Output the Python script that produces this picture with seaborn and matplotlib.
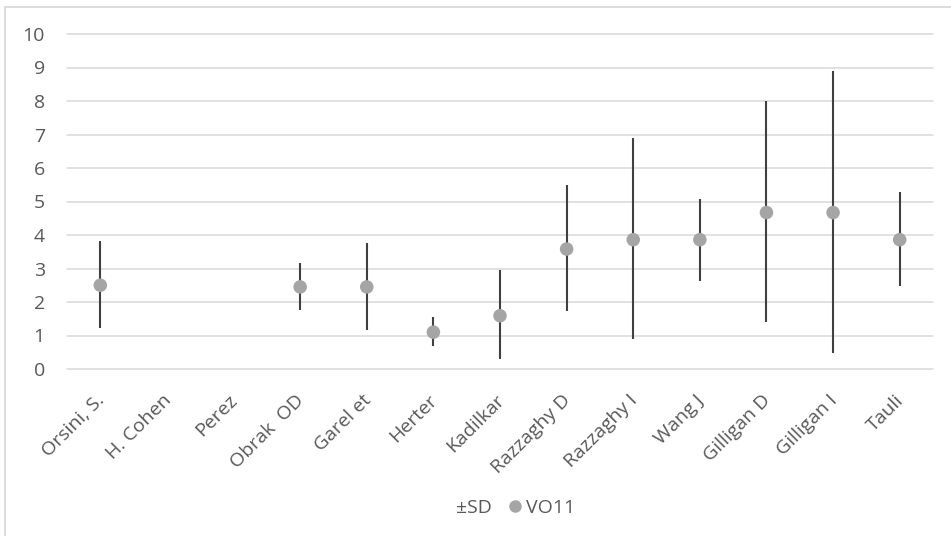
import numpy as np
import matplotlib
matplotlib.use("Agg")
import matplotlib.pyplot as plt
import matplotlib.transforms as mtransforms
from matplotlib.lines import Line2D
from matplotlib.patches import Rectangle
import seaborn as sns

# Study labels and VO11 summary statistics (mean with ±SD range)
studies = ["Orsini, S.", "H. Cohen", "Perez", "Obrak  OD", "Garel et", "Herter",
           "Kadilkar", "Razzaghy D", "Razzaghy I", "Wang J", "Gilligan D",
           "Gilligan I", "Tauli"]
vo11_mean = [2.50, np.nan, np.nan, 2.45, 2.45, 1.10, 1.59, 3.58, 3.86, 3.86, 4.67, 4.67, 3.86]
sd_upper = [3.82, np.nan, np.nan, 3.17, 3.76, 1.55, 2.96, 5.49, 6.90, 5.06, 7.99, 8.90, 5.27]
sd_lower = [1.23, np.nan, np.nan, 1.77, 1.17, 0.70, 0.31, 1.72, 0.90, 2.64, 1.39, 0.48, 2.49]
y_ticks = list(range(0, 11))

sns.set_theme(style="white")
plt.rcParams["font.family"] = ["Open Sans", "DejaVu Sans"]

text_color = "#595959"
grid_color = "#d9d9d9"
point_color = "#a5a5a5"
bar_color = "#404040"
font_size = 14

fig = plt.figure(figsize=(9.51, 5.36), dpi=100)
ax = fig.add_axes([67 / 951, 1 - 369 / 536, (933 - 67) / 951, (369 - 34) / 536])

pos = np.arange(len(studies))

# horizontal gridlines
for t in y_ticks:
    ax.axhline(t, color=grid_color, lw=1.1, zorder=0, clip_on=False)

# ±SD range lines
ax.vlines(pos, sd_lower, sd_upper, colors=bar_color, lw=1.5, zorder=2)

# VO11 means
sns.scatterplot(x=pos, y=vo11_mean, ax=ax, s=95, color=point_color,
                edgecolor="none", zorder=3, legend=False)

ax.set_xlim(-0.5, len(studies) - 0.5)
ax.set_ylim(0, 10)
ax.set_yticks(y_ticks)
ax.set_yticklabels([str(t) for t in y_ticks])
ax.set_xticks(pos)
ax.set_xticklabels(studies, rotation=45, ha="right", va="top", rotation_mode="anchor")
ax.tick_params(axis="y", length=0, pad=16, labelsize=font_size, labelcolor=text_color)
ax.tick_params(axis="x", length=0, pad=16, labelsize=font_size, labelcolor=text_color)
shift = mtransforms.ScaledTranslation(-5 / 100, 0, fig.dpi_scale_trans)
for lbl in ax.get_xticklabels():
    lbl.set_transform(lbl.get_transform() + shift)
for side in ax.spines.values():
    side.set_visible(False)
ax.grid(False)

handles = [
    Line2D([], [], linestyle="none", marker="none"),
    Line2D([], [], linestyle="none", marker="o", markersize=9,
           markerfacecolor=point_color, markeredgecolor="none"),
]
fig.legend(handles, ["±SD", "VO11"], loc="center", bbox_to_anchor=(0.533, 1 - 508 / 536),
           ncol=2, frameon=False, handlelength=0.6, handletextpad=0.25,
           columnspacing=0.9, fontsize=font_size, labelcolor=text_color)

# chart area border
fig.patches.append(Rectangle((5 / 951, -0.05), 1.0, 1.05 - 7 / 536,
                             transform=fig.transFigure, fill=False,
                             edgecolor=grid_color, lw=1.3))

fig.savefig("out.png", dpi=100)
